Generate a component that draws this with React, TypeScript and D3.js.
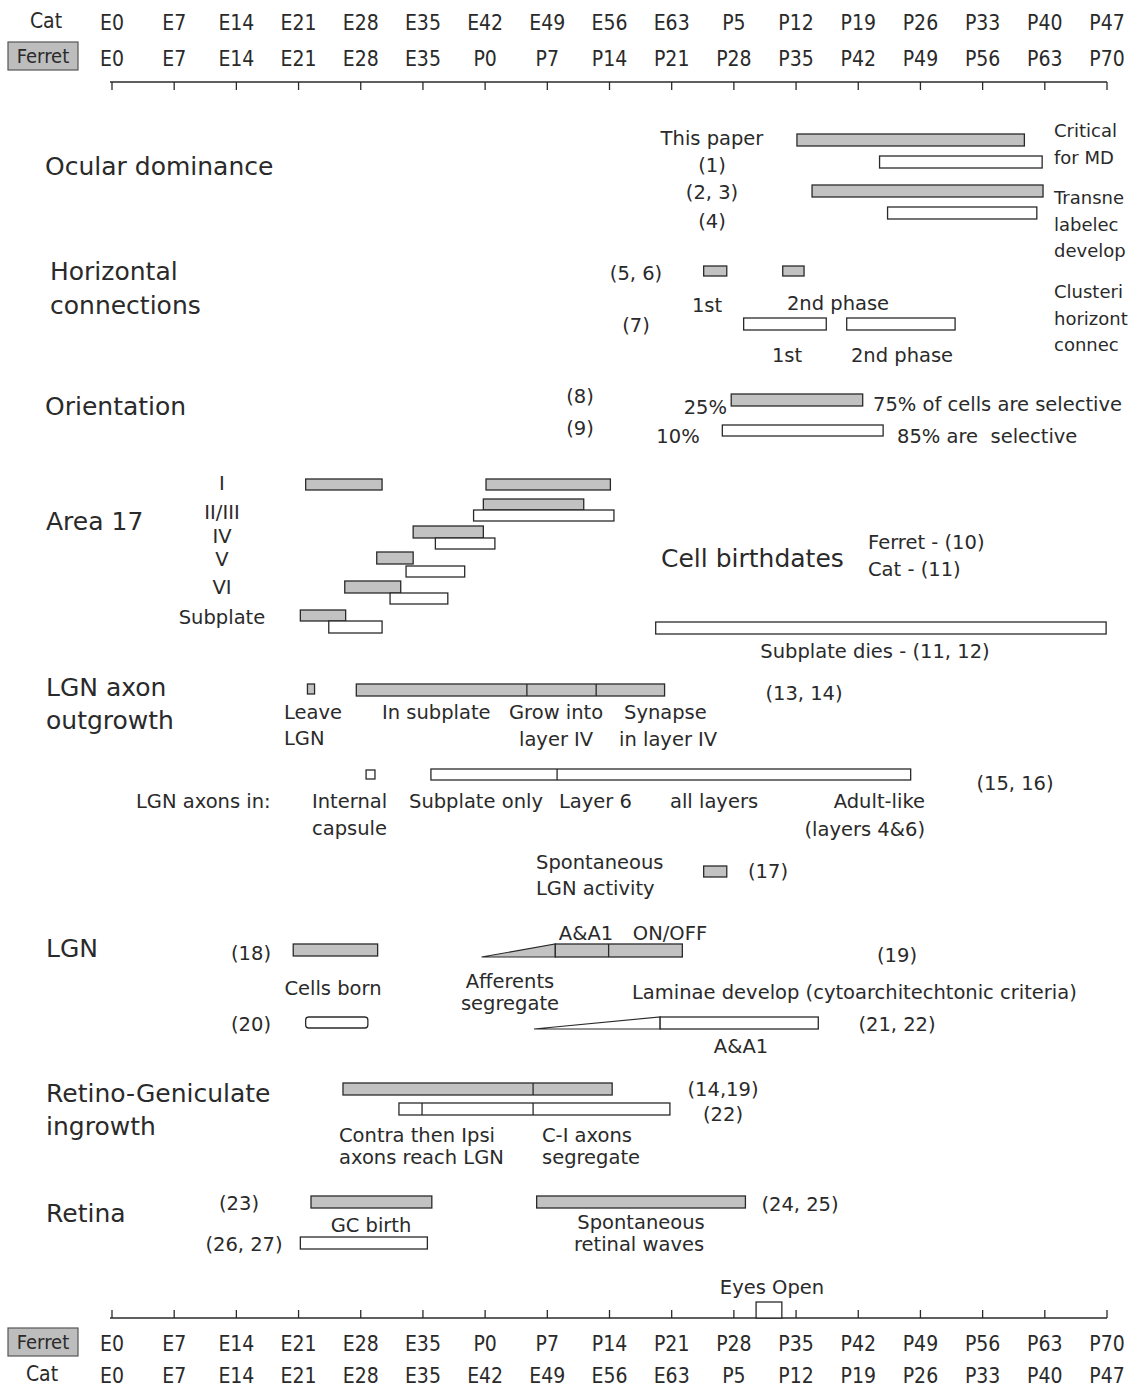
import React from "react";
import * as d3 from "d3";

// ---------- axis data ----------
const tickDays = [0, 7, 14, 21, 28, 35, 42, 49, 56, 63, 70, 77, 84, 91, 98, 105, 112];
const catTickLabels = ["E0", "E7", "E14", "E21", "E28", "E35", "E42", "E49", "E56", "E63", "P5", "P12", "P19", "P26", "P33", "P40", "P47"];
const ferretTickLabels = ["E0", "E7", "E14", "E21", "E28", "E35", "P0", "P7", "P14", "P21", "P28", "P35", "P42", "P49", "P56", "P63", "P70"];

// ---------- bar data (days on the ferret scale, E0 = 0) ----------
type Bar = { id: string; species: "ferret" | "cat"; start: number; end: number; splits?: number[] };

const ocularBars: Bar[] = [
  { id: "odThis", species: "ferret", start: 77.1, end: 102.7 },
  { id: "od1", species: "cat", start: 86.4, end: 104.7 },
  { id: "od23", species: "ferret", start: 78.8, end: 104.8 },
  { id: "od4", species: "cat", start: 87.3, end: 104.1 },
];
const horizontalBars: Bar[] = [
  { id: "hcF1", species: "ferret", start: 66.6, end: 69.2 },
  { id: "hcF2", species: "ferret", start: 75.5, end: 77.9 },
  { id: "hcC1", species: "cat", start: 71.1, end: 80.4 },
  { id: "hcC2", species: "cat", start: 82.7, end: 94.9 },
];
const orientationBars: Bar[] = [
  { id: "orF", species: "ferret", start: 69.7, end: 84.5 },
  { id: "orC", species: "cat", start: 68.7, end: 86.8 },
];
const area17Bars: Bar[] = [
  { id: "IF1", species: "ferret", start: 21.8, end: 30.4 },
  { id: "IF2", species: "ferret", start: 42.1, end: 56.1 },
  { id: "IIF", species: "ferret", start: 41.8, end: 53.1 },
  { id: "IIC", species: "cat", start: 40.7, end: 56.5 },
  { id: "IVF", species: "ferret", start: 33.9, end: 41.8 },
  { id: "IVC", species: "cat", start: 36.4, end: 43.1 },
  { id: "VF", species: "ferret", start: 29.8, end: 33.9 },
  { id: "VC", species: "cat", start: 33.1, end: 39.7 },
  { id: "VIF", species: "ferret", start: 26.2, end: 32.5 },
  { id: "VIC", species: "cat", start: 31.3, end: 37.8 },
  { id: "SPF", species: "ferret", start: 21.2, end: 26.3 },
  { id: "SPC", species: "cat", start: 24.4, end: 30.4 },
  { id: "SPdie", species: "cat", start: 61.2, end: 111.9 },
];
const lgnAxonBars: Bar[] = [
  { id: "laF1", species: "ferret", start: 22.0, end: 22.8 },
  { id: "laF2", species: "ferret", start: 27.5, end: 62.2, splits: [46.7, 54.5] },
  { id: "laC1", species: "cat", start: 28.6, end: 29.6 },
  { id: "laC2", species: "cat", start: 35.9, end: 89.9, splits: [50.1] },
  { id: "spontF", species: "ferret", start: 66.6, end: 69.2 },
];
const lgnBars: Bar[] = [
  { id: "lgnF1", species: "ferret", start: 20.4, end: 29.9 },
  { id: "lgnF2", species: "ferret", start: 49.9, end: 64.2, splits: [55.9] },
  { id: "lgnC1", species: "cat", start: 21.8, end: 28.8 },
  { id: "lgnC2", species: "cat", start: 61.7, end: 79.5 },
];
// wedges: ramps that lead into a bar
const lgnWedges = [
  { id: "lgnF2", species: "ferret", start: 41.6, end: 49.9 },
  { id: "lgnC2", species: "cat", start: 47.5, end: 61.7 },
];
const rgBars: Bar[] = [
  { id: "rgF", species: "ferret", start: 26.0, end: 56.3, splits: [47.4] },
  { id: "rgC", species: "cat", start: 32.3, end: 62.8, splits: [34.9, 47.4] },
];
const retinaBars: Bar[] = [
  { id: "retF1", species: "ferret", start: 22.4, end: 36.0 },
  { id: "retF2", species: "ferret", start: 47.8, end: 71.3 },
  { id: "retC1", species: "cat", start: 21.2, end: 35.5 },
];
const eyesOpen: Bar[] = [{ id: "eyes", species: "cat", start: 72.5, end: 75.4 }];

// ---------- layout (vertical placement: top, height) ----------
const barRows: Record<string, [number, number]> = {
  odThis: [134, 12], od1: [156, 12], od23: [185, 12], od4: [207, 12],
  hcF1: [266, 10], hcF2: [266, 10], hcC1: [318, 12], hcC2: [318, 12],
  orF: [394, 12], orC: [425, 11],
  IF1: [479, 11], IF2: [479, 11], IIF: [499, 11], IIC: [510, 11],
  IVF: [526, 12], IVC: [538, 11], VF: [552, 12], VC: [566, 11],
  VIF: [581, 12], VIC: [593, 11], SPF: [610, 11], SPC: [621, 12],
  SPdie: [622, 12],
  laF1: [684, 10], laF2: [684, 12], laC1: [770, 9], laC2: [769, 11], spontF: [866, 11],
  lgnF1: [944, 12], lgnF2: [944, 13], lgnC1: [1017, 11], lgnC2: [1017, 12],
  rgF: [1083, 12], rgC: [1103, 12],
  retF1: [1196, 12], retF2: [1196, 12], retC1: [1237, 12],
  eyes: [1302, 16],
};

type Lab = [string, number, number, "start" | "middle" | "end"];
const titleLabels: Lab[] = [
  ["Ocular dominance", 45, 166, "start"],
  ["Horizontal", 50, 271, "start"],
  ["connections", 50, 305, "start"],
  ["Orientation", 45, 406, "start"],
  ["Area 17", 46, 521, "start"],
  ["Cell birthdates", 661, 558, "start"],
  ["LGN axon", 46, 687, "start"],
  ["outgrowth", 46, 720, "start"],
  ["LGN", 46, 948, "start"],
  ["Retino-Geniculate", 46, 1093, "start"],
  ["ingrowth", 46, 1126, "start"],
  ["Retina", 46, 1213, "start"],
];
// texts at the right edge, as far as the reference shows them
const edgeLabels: Lab[] = [
  ["Critical", 1054, 130, "start"],
  ["for MD", 1054, 157, "start"],
  ["Transne", 1054, 197, "start"],
  ["labelec", 1054, 224, "start"],
  ["develop", 1054, 250, "start"],
  ["Clusteri", 1054, 291, "start"],
  ["horizont", 1054, 318, "start"],
  ["connec", 1054, 344, "start"],
];
const noteLabels: Lab[] = [
  ["This paper", 712, 138, "middle"],
  ["(1)", 712, 165, "middle"],
  ["(2, 3)", 712, 192, "middle"],
  ["(4)", 712, 221, "middle"],
  ["(5, 6)", 636, 273, "middle"],
  ["1st", 707, 305, "middle"],
  ["2nd phase", 838, 303, "middle"],
  ["(7)", 636, 325, "middle"],
  ["1st", 787, 355, "middle"],
  ["2nd phase", 902, 355, "middle"],
  ["(8)", 580, 396, "middle"],
  ["(9)", 580, 428, "middle"],
  ["25%", 727, 407, "end"],
  ["75% of cells are selective", 873, 404, "start"],
  ["10%", 678, 436, "middle"],
  ["85% are  selective", 897, 436, "start"],
  ["I", 222, 483, "middle"],
  ["II/III", 222, 512, "middle"],
  ["IV", 222, 536, "middle"],
  ["V", 222, 559, "middle"],
  ["VI", 222, 587, "middle"],
  ["Subplate", 222, 617, "middle"],
  ["Ferret - (10)", 868, 542, "start"],
  ["Cat - (11)", 868, 569, "start"],
  ["Subplate dies - (11, 12)", 875, 651, "middle"],
  ["Leave", 284, 712, "start"],
  ["LGN", 284, 738, "start"],
  ["In subplate", 382, 712, "start"],
  ["Grow into", 509, 712, "start"],
  ["layer IV", 519, 739, "start"],
  ["Synapse", 624, 712, "start"],
  ["in layer IV", 619, 739, "start"],
  ["(13, 14)", 804, 693, "middle"],
  ["LGN axons in:", 136, 801, "start"],
  ["Internal", 312, 801, "start"],
  ["capsule", 312, 828, "start"],
  ["Subplate only", 409, 801, "start"],
  ["Layer 6", 559, 801, "start"],
  ["all layers", 670, 801, "start"],
  ["Adult-like", 925, 801, "end"],
  ["(layers 4&6)", 925, 829, "end"],
  ["(15, 16)", 1015, 783, "middle"],
  ["Spontaneous", 536, 862, "start"],
  ["LGN activity", 536, 888, "start"],
  ["(17)", 748, 871, "start"],
  ["(18)", 251, 953, "middle"],
  ["A&A1", 586, 933, "middle"],
  ["ON/OFF", 670, 933, "middle"],
  ["(19)", 897, 955, "middle"],
  ["Cells born", 333, 988, "middle"],
  ["Afferents", 510, 981, "middle"],
  ["segregate", 510, 1003, "middle"],
  ["Laminae develop (cytoarchitechtonic criteria)", 632, 992, "start"],
  ["(20)", 251, 1024, "middle"],
  ["(21, 22)", 897, 1024, "middle"],
  ["A&A1", 741, 1046, "middle"],
  ["(14,19)", 723, 1089, "middle"],
  ["(22)", 723, 1114, "middle"],
  ["Contra then Ipsi", 339, 1135, "start"],
  ["axons reach LGN", 339, 1157, "start"],
  ["C-I axons", 542, 1135, "start"],
  ["segregate", 542, 1157, "start"],
  ["(23)", 239, 1203, "middle"],
  ["GC birth", 371, 1225, "middle"],
  ["(26, 27)", 244, 1244, "middle"],
  ["(24, 25)", 800, 1204, "middle"],
  ["Spontaneous", 641, 1222, "middle"],
  ["retinal waves", 639, 1244, "middle"],
  ["Eyes Open", 772, 1287, "middle"],
];

const allBars: Bar[] = [
  ...ocularBars, ...horizontalBars, ...orientationBars, ...area17Bars,
  ...lgnAxonBars, ...lgnBars, ...rgBars, ...retinaBars, ...eyesOpen,
];

const W = 1129;
const H = 1389;
const INK = "#2a2a2a";
const GRAY = "#c2c2c2";
const FONT = "'DejaVu Sans', 'Noto Sans', sans-serif";
const TICKFONT = "'DejaVu Sans Condensed', 'Liberation Sans Narrow', 'DejaVu Sans', sans-serif";

export default function App() {
  const x = d3.scaleLinear().domain([0, 112]).range([112, 1107]);

  const axis = (lineY: number, dir: number) => (
    <g>
      <line x1={x(0) - 2} x2={x(112)} y1={lineY} y2={lineY} stroke={INK} strokeWidth={1.5} />
      {tickDays.map((d) => (
        <line key={d} x1={x(d)} x2={x(d)} y1={lineY} y2={lineY + dir * 8} stroke={INK} strokeWidth={1.3} />
      ))}
    </g>
  );

  const tickRow = (labels: string[], cy: number) => (
    <g>
      {labels.map((t, i) => (
        <text key={i} x={x(tickDays[i])} y={cy + 7.5} textAnchor="middle" fontFamily={TICKFONT} fontSize={21} fill={INK}>
          {t}
        </text>
      ))}
    </g>
  );

  const ferretBox = (y: number) => (
    <g>
      <rect x={8} y={y} width={70} height={28} fill="#bdbdbd" stroke="#555" strokeWidth={1.2} />
      <text x={43} y={y + 21} textAnchor="middle" fontFamily={TICKFONT} fontSize={20} fill={INK}>Ferret</text>
    </g>
  );

  return (
    <div style={{ position: "absolute", left: 0, top: 0 }}>
      <svg width={W} height={H} style={{ display: "block", overflow: "hidden", background: "#fff" }}>
        <rect x={0} y={0} width={W} height={H} fill="#fff" />

        {/* top axis */}
        <text x={46} y={28} textAnchor="middle" fontFamily={TICKFONT} fontSize={21} fill={INK}>Cat</text>
        {ferretBox(42)}
        {tickRow(catTickLabels, 22)}
        {tickRow(ferretTickLabels, 58)}
        {axis(82, 1)}

        {/* bottom axis */}
        {axis(1318, -1)}
        {ferretBox(1328)}
        <text x={42} y={1381} textAnchor="middle" fontFamily={TICKFONT} fontSize={21} fill={INK}>Cat</text>
        {tickRow(ferretTickLabels, 1343)}
        {tickRow(catTickLabels, 1375)}

        {/* wedges */}
        {lgnWedges.map((w) => {
          const [top, h] = barRows[w.id];
          const x0 = x(w.start);
          const x1 = x(w.end);
          const bottom = top + h;
          return (
            <polygon
              key={"w" + w.id}
              points={`${x0},${bottom} ${x1},${top} ${x1},${bottom}`}
              fill={w.species === "ferret" ? GRAY : "#fff"}
              stroke={INK}
              strokeWidth={1.2}
            />
          );
        })}

        {/* bars */}
        {allBars.map((b) => {
          const [top, h] = barRows[b.id];
          const x0 = x(b.start);
          const x1 = x(b.end);
          return (
            <g key={b.id}>
              <rect
                x={x0}
                y={top}
                width={x1 - x0}
                height={h}
                fill={b.species === "ferret" ? GRAY : "#fff"}
                stroke={INK}
                strokeWidth={1.3}
                rx={b.id === "lgnC1" ? 3 : 0}
              />
              {(b.splits || []).map((s) => (
                <line key={s} x1={x(s)} x2={x(s)} y1={top} y2={top + h} stroke={INK} strokeWidth={1.3} />
              ))}
            </g>
          );
        })}

        {/* titles */}
        {titleLabels.map(([t, tx, cy, anchor], i) => (
          <text key={"t" + i} x={tx} y={cy + 9} textAnchor={anchor} fontFamily={FONT} fontSize={25} fill={INK}>
            {t}
          </text>
        ))}

        {/* notes */}
        {noteLabels.map(([t, tx, cy, anchor], i) => (
          <text key={"n" + i} x={tx} y={cy + 7} textAnchor={anchor} fontFamily={FONT} fontSize={19.5} fill={INK} style={{ whiteSpace: "pre" }}>
            {t}
          </text>
        ))}

        {/* right-edge notes */}
        {edgeLabels.map(([t, tx, cy, anchor], i) => (
          <text key={"e" + i} x={tx} y={cy + 7} textAnchor={anchor} fontFamily={FONT} fontSize={18} fill={INK}>
            {t}
          </text>
        ))}
      </svg>
    </div>
  );
}
